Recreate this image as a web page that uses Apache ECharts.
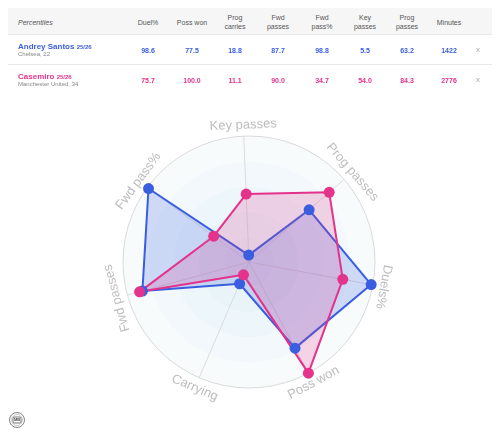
<!DOCTYPE html>
<html>
<head>
<meta charset="utf-8">
<script src="https://cdn.jsdelivr.net/npm/echarts@6/dist/echarts.min.js"></script>
<style>
  html, body { margin: 0; padding: 0; background: #fff; }
  #wrap { position: relative; width: 500px; height: 441px; overflow: hidden; font-family: 'Liberation Sans', Arial, sans-serif; }
  #chart { position: absolute; left: 0; top: 0; width: 500px; height: 441px; }
  #table { position: absolute; left: 0; top: 0; width: 500px; height: 100px; }
  .hdr { position: absolute; left: 8px; top: 8px; width: 484px; height: 26px; background: #f6f6f7; border-bottom: 1px solid #e8e8e8; }
  .sep { position: absolute; left: 8px; width: 484px; height: 1px; background: #e8e8e8; }
  .t { position: absolute; white-space: nowrap; }
  .h { font-size: 7px; color: #555; text-align: center; line-height: 9px; transform: translate(-50%, -50%); }
  .v { font-size: 7px; font-weight: bold; transform: translate(-50%, -50%); }
</style>
</head>
<body>
<div id="wrap">
  <div id="chart"></div>
  <div id="table"></div>
</div>
<script>
// columns of the percentile table
const columns = ['Duel%', 'Poss won', 'Prog\ncarries', 'Fwd\npasses', 'Fwd\npass%', 'Key\npasses', 'Prog\npasses', 'Minutes']
const colX = [148, 192, 235, 278, 322, 365, 407, 449]

const players = ['Andrey Santos', 'Casemiro']
const seasons = ['25/26', '25/26']
const clubs = ['Chelsea, 22', 'Manchester United, 34']
const colors = ['#3a5ee0', '#e4338b']

// table values (same order as columns)
const santosRow = ['98.6', '77.5', '18.8', '87.7', '98.8', '5.5', '63.2', '1422']
const casemiroRow = ['75.7', '100.0', '11.1', '90.0', '34.7', '54.0', '84.3', '2776']

// radar (counter-clockwise from top)
const indicators = ['Key passes', 'Fwd pass%', 'Fwd passes', 'Carrying', 'Poss won', 'Duels%', 'Prog passes']
const santosRadar = [5.5, 98.8, 87.7, 18.8, 77.5, 98.6, 63.2]
const casemiroRadar = [54.0, 34.7, 90.0, 11.1, 100.0, 75.7, 84.3]

const center = [249, 262]
const radius = 126
const startAngle = 92.4

// ---- table ----
function buildTable() {
  const t = document.getElementById('table')
  let html = '<div class="hdr"></div>'
  html += '<div class="t" style="left:18px;top:22px;transform:translateY(-50%);font-size:7px;font-style:italic;color:#555">Percentiles</div>'
  columns.forEach((c, i) => {
    html += '<div class="t h" style="left:' + colX[i] + 'px;top:22px">' + c.replace('\n', '<br>') + '</div>'
  })
  const rows = [santosRow, casemiroRow]
  const rowY = [50, 80]
  rows.forEach((row, r) => {
    const y = rowY[r]
    html += '<div class="t" style="left:18px;top:' + (y - 8) + 'px;font-size:8px;font-weight:bold;color:' + colors[r] + '">' +
      players[r] + ' <span style="font-size:6px">' + seasons[r] + '</span></div>'
    html += '<div class="t" style="left:18px;top:' + (y + 1) + 'px;font-size:6px;color:#888">' + clubs[r] + '</div>'
    row.forEach((v, i) => {
      html += '<div class="t v" style="left:' + colX[i] + 'px;top:' + y + 'px;color:' + colors[r] + '">' + v + '</div>'
    })
    html += '<div class="t" style="left:476px;top:' + (y - 5) + 'px;font-size:8px;color:#aaa">x</div>'
  })
  html += '<div class="sep" style="top:64px"></div>'
  t.innerHTML = html
}
buildTable()

// ---- radar ----
const chart = echarts.init(document.getElementById('chart'))

// tangential axis names
const nameRadius = radius + 11
const nameGraphics = indicators.map((name, i) => {
  const deg = startAngle + i * 360 / indicators.length
  const rad = deg * Math.PI / 180
  const d = ((deg % 360) + 360) % 360
  const rot = (d > 210 && d < 330) ? deg + 90 : deg - 90
  return {
    type: 'text',
    x: center[0] + nameRadius * Math.cos(rad),
    y: center[1] - nameRadius * Math.sin(rad),
    rotation: rot * Math.PI / 180,
    style: {
      text: name,
      fill: '#bdbdbd',
      font: '13px "Liberation Sans", Arial, sans-serif',
      align: 'center',
      verticalAlign: 'middle'
    },
    silent: true
  }
})

// small logo bottom left
const logo = {
  type: 'group',
  x: 17,
  y: 420,
  children: [
    { type: 'circle', shape: { cx: 0, cy: 0, r: 7.5 }, style: { fill: 'none', stroke: '#666', lineWidth: 0.8 } },
    { type: 'circle', shape: { cx: 0, cy: 0, r: 5.5 }, style: { fill: 'none', stroke: '#999', lineWidth: 0.5 } },
    { type: 'rect', shape: { x: -4, y: -3, width: 8, height: 6, r: 1 }, style: { fill: '#fff', stroke: '#555', lineWidth: 0.8 } },
    { type: 'text', style: { text: 'MB', x: 0, y: 0.3, align: 'center', verticalAlign: 'middle', font: 'bold 4px "Liberation Sans", Arial', fill: '#444' } }
  ]
}

const clear = 'rgba(0,0,0,0)'

chart.setOption({
  animation: false,
  radar: {
    center: center,
    radius: radius,
    startAngle: startAngle,
    shape: 'circle',
    splitNumber: 5,
    indicator: indicators.map(n => ({ name: n, min: 0, max: 100 })),
    axisName: { show: false },
    axisLine: { lineStyle: { color: '#dcdcdc', width: 1 } },
    splitLine: {
      lineStyle: { color: [clear, clear, clear, clear, clear, '#d9d9d9'], width: 1 }
    },
    splitArea: {
      areaStyle: { color: ['#e4f2f7', '#e8f4f8', '#edf6fa', '#f2f8fb', '#f7fbfc'] }
    }
  },
  graphic: nameGraphics.concat([logo]),
  series: [{
    type: 'radar',
    symbol: 'circle',
    symbolSize: 11,
    data: [
      {
        name: players[0],
        value: santosRadar,
        itemStyle: { color: colors[0] },
        lineStyle: { color: colors[0], width: 2 },
        areaStyle: { color: 'rgba(58,94,224,0.3)' }
      },
      {
        name: players[1],
        value: casemiroRadar,
        itemStyle: { color: colors[1] },
        lineStyle: { color: colors[1], width: 2 },
        areaStyle: { color: 'rgba(228,51,139,0.28)' }
      }
    ]
  }]
})
</script>
</body>
</html>
